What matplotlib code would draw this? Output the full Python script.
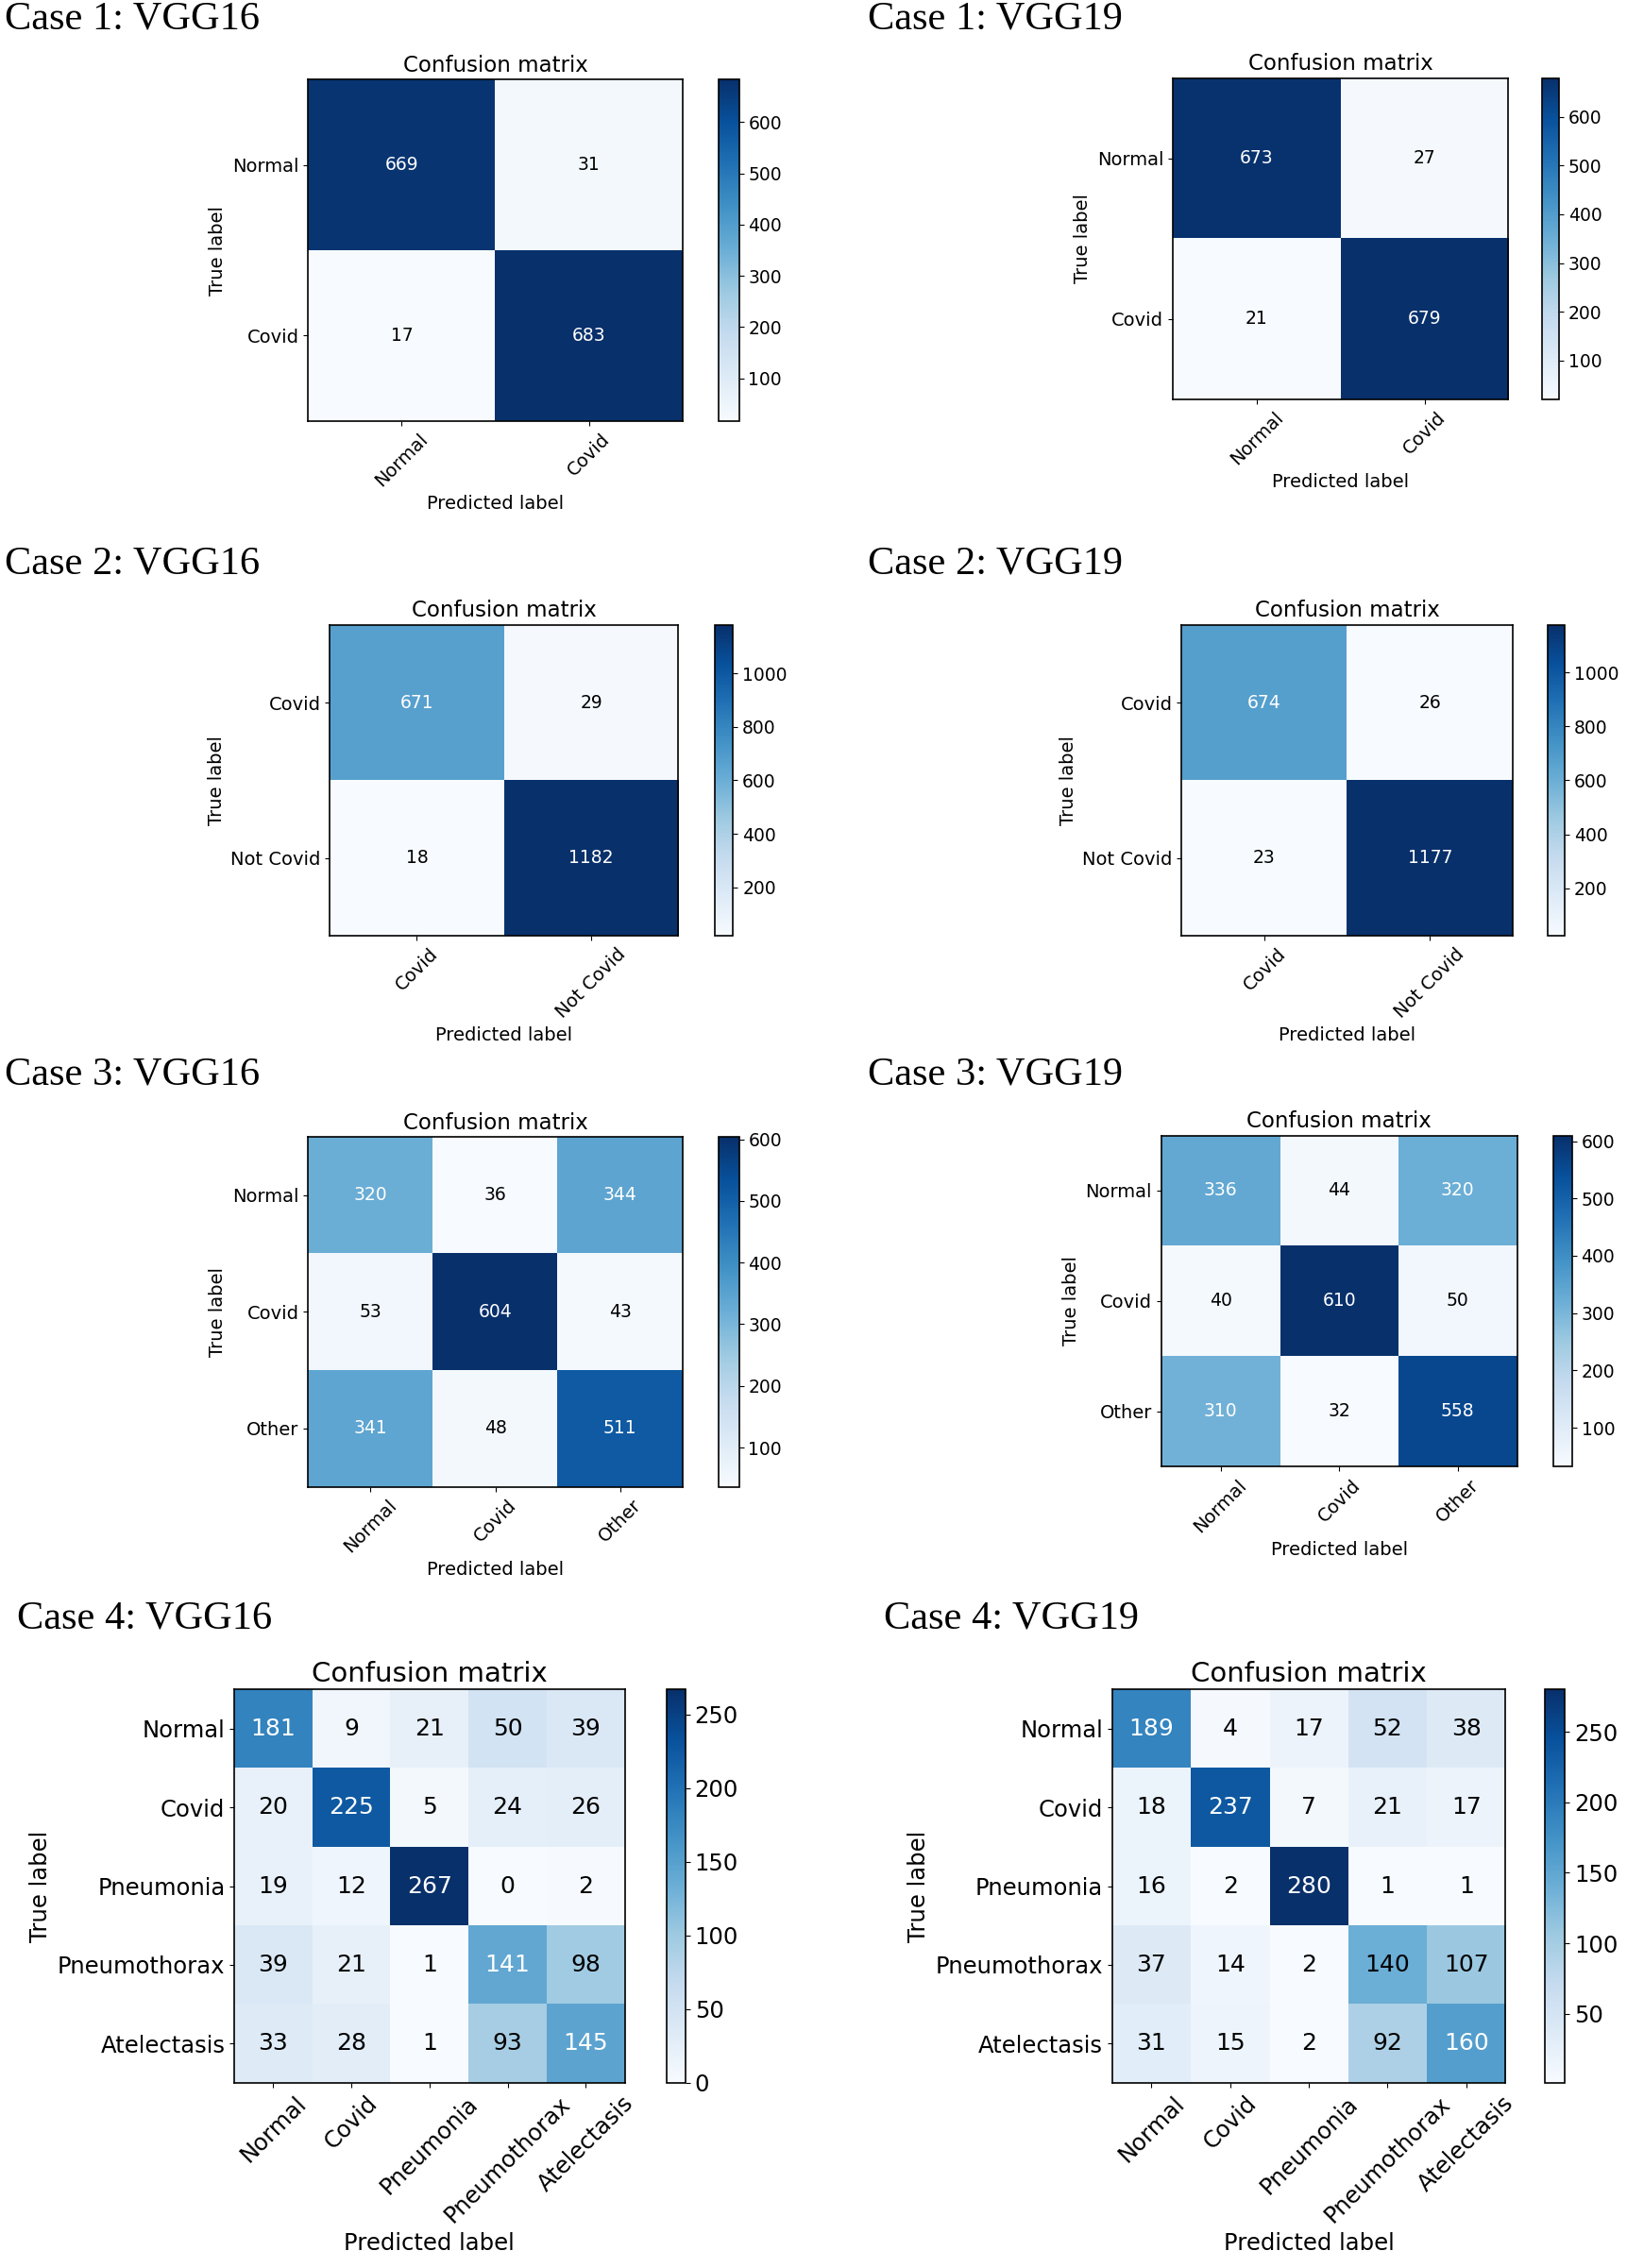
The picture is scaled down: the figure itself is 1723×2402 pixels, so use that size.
import matplotlib
matplotlib.use("Agg")
import matplotlib.pyplot as plt
import numpy as np

# datos de las matrices de confusion
case1_labels = ["Normal", "Covid"]
case1_vgg16 = [[669, 31], [17, 683]]
case1_vgg19 = [[673, 27], [21, 679]]

case2_labels = ["Covid", "Not Covid"]
case2_vgg16 = [[671, 29], [18, 1182]]
case2_vgg19 = [[674, 26], [23, 1177]]

case3_labels = ["Normal", "Covid", "Other"]
case3_vgg16 = [[320, 36, 344], [53, 604, 43], [341, 48, 511]]
case3_vgg19 = [[336, 44, 320], [40, 610, 50], [310, 32, 558]]

case4_labels = ["Normal", "Covid", "Pneumonia", "Pneumothorax", "Atelectasis"]
case4_vgg16 = [[181, 9, 21, 50, 39],
               [20, 225, 5, 24, 26],
               [19, 12, 267, 0, 2],
               [39, 21, 1, 141, 98],
               [33, 28, 1, 93, 145]]
case4_vgg19 = [[189, 4, 17, 52, 38],
               [18, 237, 7, 21, 17],
               [16, 2, 280, 1, 1],
               [37, 14, 2, 140, 107],
               [31, 15, 2, 92, 160]]

headings = ["Case 1: VGG16", "Case 1: VGG19", "Case 2: VGG16", "Case 2: VGG19",
            "Case 3: VGG16", "Case 3: VGG19", "Case 4: VGG16", "Case 4: VGG19"]

# layout en pixeles de referencia (1125 x 1568)
W, H = 1125.0, 1568.0

fig = plt.figure(figsize=(17.23, 24.02), dpi=100)


def box(x0, y0, x1, y1):
    return [x0 / W, 1 - y1 / H, (x1 - x0) / W, (y1 - y0) / H]


def plot_cm(cm, classes, axbox, cbbox, big=False):
    cm = np.array(cm)
    if big:
        fs_tick, fs_num, fs_title, fs_lab = 17.5, 18, 21, 17.5
    else:
        fs_tick, fs_num, fs_title, fs_lab = 14, 13.5, 16.5, 14
    ax = fig.add_axes(box(*axbox))
    im = ax.imshow(cm, interpolation="nearest", cmap=plt.cm.Blues, aspect="auto")
    ax.set_title("Confusion matrix", fontsize=fs_title)
    cax = fig.add_axes(box(*cbbox))
    cb = fig.colorbar(im, cax=cax)
    cb.ax.tick_params(labelsize=fs_num if not big else fs_tick)
    cb.outline.set_linewidth(1.2)
    tick_marks = np.arange(len(classes))
    ax.set_xticks(tick_marks)
    ax.set_xticklabels(classes, rotation=45, fontsize=fs_tick)
    ax.set_yticks(tick_marks)
    ax.set_yticklabels(classes, fontsize=fs_tick)
    thresh = cm.max() / 2.
    for i in range(cm.shape[0]):
        for j in range(cm.shape[1]):
            ax.text(j, i, format(cm[i, j], "d"), ha="center", va="center",
                    fontsize=fs_num,
                    color="white" if cm[i, j] > thresh else "black")
    ax.set_ylabel("True label", fontsize=fs_lab)
    ax.set_xlabel("Predicted label", fontsize=fs_lab)
    for s in ax.spines.values():
        s.set_linewidth(1.2)
    return ax


plot_cm(case1_vgg16, case1_labels, (213, 55, 472, 291), (497, 55, 511, 291))
plot_cm(case1_vgg19, case1_labels, (811, 54, 1043, 276), (1066, 54, 1078, 276))
plot_cm(case2_vgg16, case2_labels, (228, 432, 469, 647), (494, 432, 507, 647))
plot_cm(case2_vgg19, case2_labels, (817, 432, 1046, 647), (1070, 432, 1082, 647))
plot_cm(case3_vgg16, case3_labels, (213, 786, 472, 1028), (497, 786, 511, 1028))
plot_cm(case3_vgg19, case3_labels, (803, 785, 1049, 1014), (1074, 785, 1087, 1014))
plot_cm(case4_vgg16, case4_labels, (162, 1168, 432, 1440), (461, 1168, 474, 1440), big=True)
plot_cm(case4_vgg19, case4_labels, (769, 1168, 1041, 1440), (1068, 1168, 1082, 1440), big=True)

# titulos de cada caso
head_pos = [(3, 13), (600, 13), (3, 390), (600, 390),
            (3, 743), (600, 743), (12, 1119), (611, 1119)]
for t, (hx, hy) in zip(headings, head_pos):
    fig.text(hx / W, 1 - hy / H, t, family="Liberation Serif", fontsize=30.5,
             ha="left", va="center")

fig.savefig("out.png", dpi=100)
